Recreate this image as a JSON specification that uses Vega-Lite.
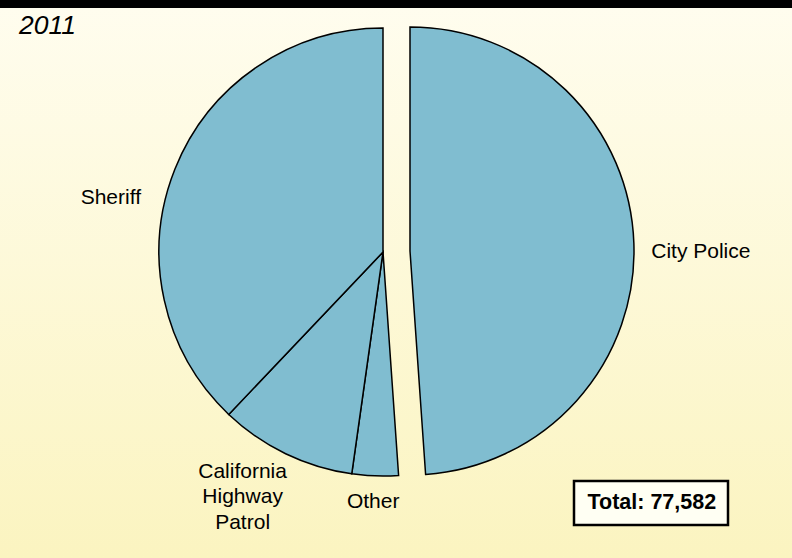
{
  "$schema": "https://vega.github.io/schema/vega-lite/v6.json",
  "width": 792,
  "height": 558,
  "autosize": "none",
  "padding": 0,
  "background": "#FFFDEF",
  "datasets": {
    "slices": [
      {"agency": "City Police", "count": 37930},
      {"agency": "Other", "count": 2590},
      {"agency": "California Highway Patrol", "count": 7650},
      {"agency": "Sheriff", "count": 29412}
    ],
    "heading": [{"year": "2011"}]
  },
  "layer": [
    {
      "data": {"name": "slices"},
      "transform": [{"window": [{"op": "row_number", "as": "i"}]}],
      "mark": {"type": "arc", "radius": 224, "fill": "#80BDD0", "stroke": "black", "strokeWidth": 1.5, "x": {"expr": "width/2-13"}, "y": {"expr": "height/2-27"}},
      "encoding": {
        "theta": {"field": "count", "type": "quantitative", "stack": true},
        "order": {"field": "i", "type": "quantitative"},
        "opacity": {"condition": {"test": "datum.agency === 'City Police'", "value": 0}, "value": 1}
      }
    },
    {
      "data": {"name": "slices"},
      "transform": [{"window": [{"op": "row_number", "as": "i"}]}],
      "mark": {"type": "arc", "radius": 224, "fill": "#80BDD0", "stroke": "black", "strokeWidth": 1.5, "x": {"expr": "width/2+14"}, "y": {"expr": "height/2-28"}},
      "encoding": {
        "theta": {"field": "count", "type": "quantitative", "stack": true},
        "order": {"field": "i", "type": "quantitative"},
        "opacity": {"condition": {"test": "datum.agency === 'City Police'", "value": 1}, "value": 0}
      }
    },
    {
      "data": {"name": "slices"},
      "transform": [{"window": [{"op": "row_number", "as": "i"}]}],
      "mark": {"type": "text", "radius": 290, "dx": 1, "dy": 11, "font": "Liberation Sans", "fontSize": 21, "color": "black", "x": {"expr": "width/2+14"}, "y": {"expr": "height/2-28"}},
      "encoding": {
        "theta": {"field": "count", "type": "quantitative", "stack": true},
        "order": {"field": "i", "type": "quantitative"},
        "text": {"field": "agency"},
        "opacity": {"condition": {"test": "datum.agency === 'City Police'", "value": 1}, "value": 0}
      }
    },
    {
      "data": {"name": "slices"},
      "transform": [{"window": [{"op": "row_number", "as": "i"}]}],
      "mark": {"type": "text", "radius": 250, "dx": -40, "dy": 39, "font": "Liberation Sans", "fontSize": 21, "color": "black", "x": {"expr": "width/2-13"}, "y": {"expr": "height/2-27"}},
      "encoding": {
        "theta": {"field": "count", "type": "quantitative", "stack": true},
        "order": {"field": "i", "type": "quantitative"},
        "text": {"field": "agency"},
        "opacity": {"condition": {"test": "datum.agency === 'Sheriff'", "value": 1}, "value": 0}
      }
    },
    {
      "data": {"name": "slices"},
      "transform": [{"window": [{"op": "row_number", "as": "i"}]}],
      "mark": {"type": "text", "radius": 270, "dx": -23, "dy": -23.5, "lineBreak": " ", "lineHeight": 25.5, "font": "Liberation Sans", "fontSize": 21, "color": "black", "x": {"expr": "width/2-13"}, "y": {"expr": "height/2-27"}},
      "encoding": {
        "theta": {"field": "count", "type": "quantitative", "stack": true},
        "order": {"field": "i", "type": "quantitative"},
        "text": {"field": "agency"},
        "opacity": {"condition": {"test": "datum.agency === 'California Highway Patrol'", "value": 1}, "value": 0}
      }
    },
    {
      "data": {"name": "slices"},
      "transform": [{"window": [{"op": "row_number", "as": "i"}]}],
      "mark": {"type": "text", "radius": 250, "dx": -1, "dy": 0, "font": "Liberation Sans", "fontSize": 21, "x": {"expr": "width/2-13"}, "y": {"expr": "height/2-27"}},
      "encoding": {
        "theta": {"field": "count", "type": "quantitative", "stack": true},
        "order": {"field": "i", "type": "quantitative"},
        "text": {"field": "agency"},
        "opacity": {"condition": {"test": "datum.agency === 'Other'", "value": 1}, "value": 0},
        "color": {
          "datum": "Total: 77,582",
          "type": "nominal",
          "scale": {"range": ["black"]},
          "legend": {
            "orient": "none",
            "legendX": 574,
            "legendY": 481,
            "title": null,
            "padding": 11,
            "strokeColor": "black",
            "fillColor": "#FFFFF3",
            "labelFont": "Liberation Sans",
            "labelFontSize": 21.5,
            "labelFontWeight": "bold",
            "labelColor": "black",
            "labelOffset": -19,
            "symbolSize": 0,
            "symbolOpacity": 0,
            "symbolStrokeWidth": 0
          }
        }
      }
    },
    {
      "data": {"name": "heading"},
      "mark": {"type": "text", "align": "left", "baseline": "alphabetic", "font": "Liberation Sans", "fontSize": 26.5, "fontStyle": "italic", "color": "black"},
      "encoding": {
        "text": {"field": "year"},
        "x": {"value": 19},
        "y": {"value": 34}
      }
    },
    {
      "data": {"values": [{}]},
      "mark": {"type": "rule", "color": "black", "strokeWidth": 8},
      "encoding": {"y": {"value": 4}}
    }
  ],
  "config": {
    "view": {
      "stroke": null,
      "fill": {
        "gradient": "linear",
        "x1": 0, "y1": 0, "x2": 0, "y2": 1,
        "stops": [
          {"offset": 0, "color": "#FFFDEF"},
          {"offset": 1, "color": "#FBF4C0"}
        ]
      }
    },
    "legend": {"strokeWidth": 2.5}
  }
}
